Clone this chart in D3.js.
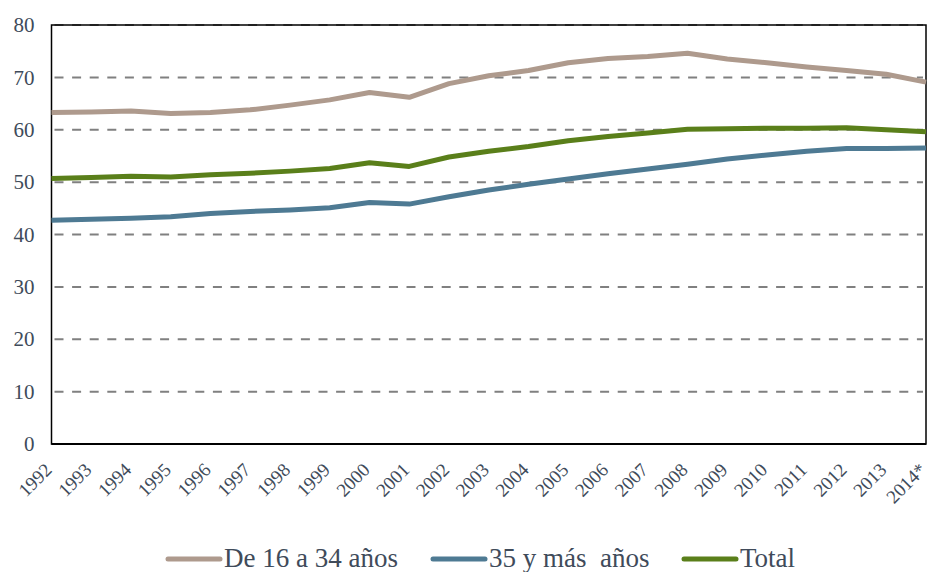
<!DOCTYPE html>
<html>
<head>
<meta charset="utf-8">
<script src="https://cdn.jsdelivr.net/npm/d3@7"></script>
<style>
  body { margin: 0; background: #fff; }
</style>
</head>
<body>
<div id="chart"></div>
<script>
// Data
const years = ['1992', '1993', '1994', '1995', '1996', '1997', '1998', '1999', '2000', '2001', '2002',
    '2003', '2004', '2005', '2006', '2007', '2008', '2009', '2010', '2011', '2012', '2013', '2014*'];
const jovenes = [63.3, 63.4, 63.6, 63.1, 63.3, 63.8, 64.7, 65.7, 67.1, 66.2, 68.8,
    70.3, 71.3, 72.8, 73.6, 74.0, 74.6, 73.5, 72.8, 72.0, 71.3, 70.6, 69.1];
const mayores = [42.7, 42.9, 43.1, 43.4, 44.0, 44.4, 44.7, 45.1, 46.1, 45.8, 47.2,
    48.5, 49.6, 50.6, 51.6, 52.5, 53.4, 54.4, 55.2, 55.9, 56.4, 56.4, 56.5];
const total = [50.7, 50.9, 51.1, 51.0, 51.4, 51.7, 52.1, 52.6, 53.7, 53.0, 54.8,
    55.9, 56.8, 57.9, 58.7, 59.4, 60.1, 60.2, 60.3, 60.3, 60.4, 60.0, 59.6];
const yTicks = [0, 10, 20, 30, 40, 50, 60, 70, 80];
const seriesNames = ['De 16 a 34 años', '35 y más  años', 'Total'];
const seriesColors = ['#ae9a8d', '#4e7a93', '#5a7f1a'];
const seriesValues = [jovenes, mayores, total];

const W = 929, H = 572;
const margin = { left: 51.5, right: 3, top: 25, bottom: 128 };
const serif = '"Liberation Serif"';
const textColor = '#404b5a';

const svg = d3.select('#chart').append('svg')
    .attr('width', W)
    .attr('height', H);

const x = d3.scalePoint()
    .domain(years)
    .range([margin.left, W - margin.right]);

const y = d3.scaleLinear()
    .domain([0, 80])
    .range([H - margin.bottom, margin.top]);

// Gridlines
svg.append('g')
    .selectAll('line')
    .data(yTicks)
    .enter()
    .append('line')
    .attr('x1', margin.left + 3)
    .attr('x2', W - margin.right - 3)
    .attr('y1', d => y(d))
    .attr('y2', d => y(d))
    .attr('stroke', '#808080')
    .attr('stroke-width', 2)
    .attr('stroke-dasharray', '9,8.6');

// Frame
svg.append('rect')
    .attr('x', margin.left)
    .attr('y', margin.top)
    .attr('width', W - margin.right - margin.left)
    .attr('height', y(0) - margin.top)
    .attr('fill', 'none')
    .attr('stroke', '#000')
    .attr('stroke-width', 1.5);

svg.append('line')
    .attr('x1', margin.left)
    .attr('x2', W - margin.right)
    .attr('y1', y(0))
    .attr('y2', y(0))
    .attr('stroke', '#000')
    .attr('stroke-width', 2);

// Y axis labels
const yAxis = svg.append('g')
    .attr('transform', `translate(${margin.left},0)`)
    .call(d3.axisLeft(y).tickValues(yTicks).tickSize(0).tickPadding(17));
yAxis.select('.domain').remove();
yAxis.selectAll('text')
    .style('font-family', serif)
    .style('font-size', '21px')
    .style('fill', textColor);

// X axis labels
const xAxis = svg.append('g')
    .attr('transform', `translate(0,${y(0)})`)
    .call(d3.axisBottom(x).tickSize(0).tickPadding(0));
xAxis.select('.domain').remove();
xAxis.selectAll('text')
    .style('font-family', serif)
    .style('font-size', '19px')
    .style('fill', textColor)
    .attr('text-anchor', 'end')
    .attr('dy', null)
    .attr('y', 0)
    .attr('transform', 'translate(1,27) rotate(-45)');

// Lines
const line = d3.line()
    .x((d, i) => x(years[i]))
    .y(d => y(d));

svg.append('g')
    .selectAll('path')
    .data(seriesValues)
    .enter()
    .append('path')
    .attr('d', d => line(d))
    .attr('fill', 'none')
    .attr('stroke', (d, i) => seriesColors[i])
    .attr('stroke-width', 5)
    .attr('stroke-linejoin', 'round');

// Legend
const legendX = [166, 431, 682];
const legend = svg.append('g')
    .selectAll('g')
    .data(seriesNames)
    .enter()
    .append('g')
    .attr('transform', (d, i) => `translate(${legendX[i]},559)`);

legend.append('line')
    .attr('x1', 2)
    .attr('x2', 54)
    .attr('stroke', (d, i) => seriesColors[i])
    .attr('stroke-width', 5)
    .attr('stroke-linecap', 'round');

legend.append('text')
    .attr('x', 58)
    .attr('y', 8)
    .style('font-family', serif)
    .style('font-size', '27px')
    .style('fill', textColor)
    .style('white-space', 'pre')
    .text(d => d);
</script>
</body>
</html>
